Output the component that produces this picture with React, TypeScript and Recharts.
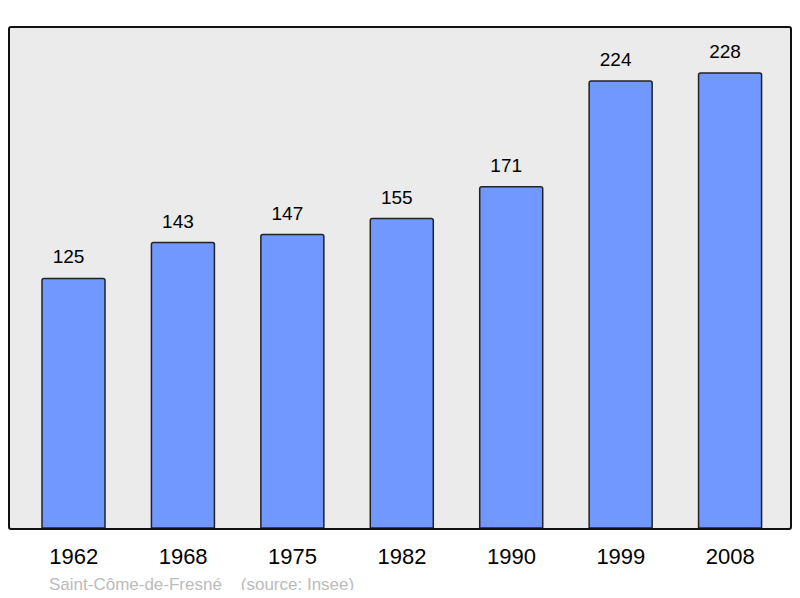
import React from 'react'
import { Bar, BarChart, CartesianGrid, LabelList, XAxis, YAxis } from 'recharts'

const years = ['1962', '1968', '1975', '1982', '1990', '1999', '2008']
const population = [125, 143, 147, 155, 171, 224, 228]
const caption = 'Saint-Côme-de-Fresné\u00a0\u00a0\u00a0\u00a0(source: Insee)'

const data = years.map((year, i) => ({ year, population: population[i] }))

const font = '"Liberation Sans", Arial, sans-serif'

export default function App() {
  return (
    <div style={{ position: 'relative', width: 800, height: 598, margin: -8, fontFamily: font, background: '#fff' }}>
      <BarChart
        width={800}
        height={598}
        data={data}
        margin={{ top: 27, right: 9, bottom: 0, left: 9 }}
        barSize={63}
      >
        <CartesianGrid fill="#ebebeb" stroke="none" horizontal={false} vertical={false} />
        <YAxis hide domain={[0, 251]} />
        <XAxis
          dataKey="year"
          height={70}
          axisLine={false}
          tickLine={false}
          padding={{ left: 10, right: 6 }}
          tickMargin={14}
          tick={{ fill: '#000', fontSize: 22, fontFamily: font }}
        />
        <Bar
          dataKey="population"
          fill="#7098ff"
          stroke="#222"
          strokeWidth={1.5}
          radius={[2, 2, 0, 0]}
          isAnimationActive={false}
        >
          <LabelList
            dataKey="population"
            position="top"
            offset={15}
            dx={-5}
            style={{ fill: '#000', fontSize: 19, fontFamily: font }}
          />
        </Bar>
      </BarChart>
      <div
        style={{
          position: 'absolute',
          left: 8,
          top: 26,
          width: 780,
          height: 500,
          border: '2px solid #111',
          borderRadius: 3,
          pointerEvents: 'none'
        }}
      />
      <div
        style={{
          position: 'absolute',
          left: 49,
          top: 575,
          fontSize: 17,
          color: '#bbb',
          whiteSpace: 'pre'
        }}
      >
        {caption}
      </div>
    </div>
  )
}
